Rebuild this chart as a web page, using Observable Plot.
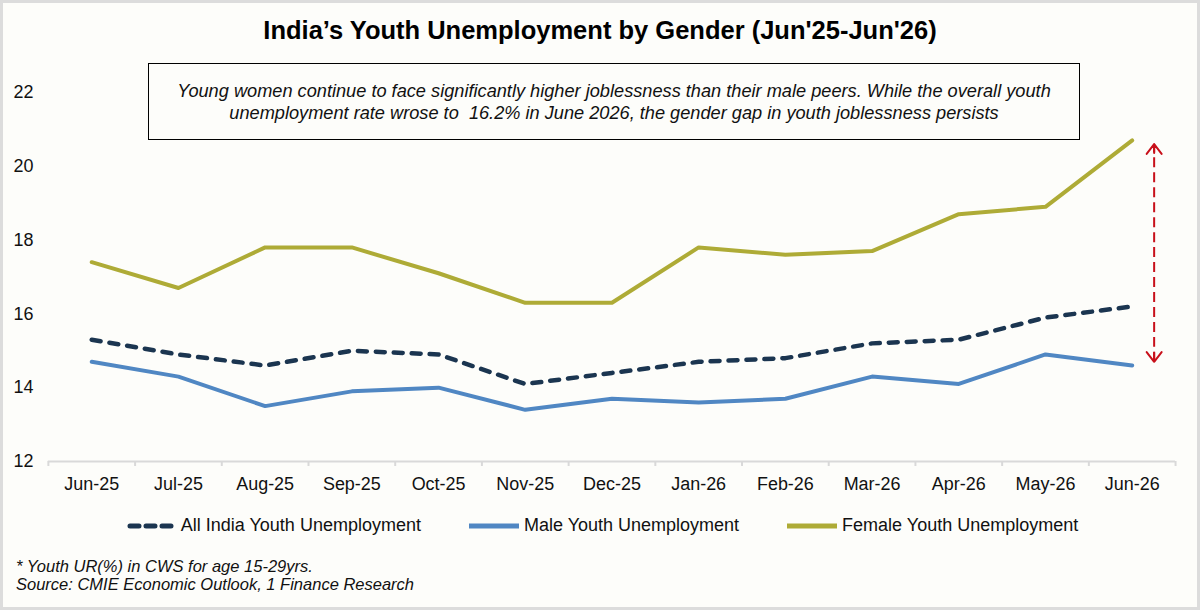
<!DOCTYPE html>
<html>
<head>
<meta charset="utf-8">
<script src="https://cdn.jsdelivr.net/npm/d3@7"></script>
<script src="https://cdn.jsdelivr.net/npm/@observablehq/plot@0.6"></script>
<style>
  html, body { margin: 0; padding: 0; background: #fdfdfa; }
  #wrap { position: relative; width: 1200px; height: 610px; box-sizing: border-box;
          border: 3px solid #dcdcdc; background: #fdfdfa; font-family: "Liberation Sans", Arial, sans-serif; overflow: hidden; }
  #title { position: absolute; left: 0; top: 13px; width: 1194px; text-align: center;
           font-size: 25.5px; font-weight: bold; color: #000; }
  #chart { position: absolute; left: -3px; top: 54px; }
  #note { position: absolute; left: 145px; top: 60px; width: 932px; height: 77px; box-sizing: border-box;
          border: 1.5px solid #000; background: #fdfdfa; display: flex; align-items: center; justify-content: center;
          text-align: center; font-style: italic; font-size: 18.2px; line-height: 22px; color: #111; }
  #legend { position: absolute; left: 0; top: 512px; width: 1194px; display: flex; justify-content: center;
            gap: 48px; font-size: 18px; color: #111; padding-left: 4px; box-sizing: border-box; }
  .item { display: flex; align-items: center; gap: 5px; }
  #foot { position: absolute; left: 13px; top: 554px; font-style: italic; font-size: 16.5px; line-height: 18px; color: #111; }
</style>
</head>
<body>
<div id="wrap">
  <div id="title">India’s Youth Unemployment by Gender (Jun'25-Jun'26)</div>
  <div id="chart"></div>
  <div id="note"><div>Young women continue to face significantly higher joblessness than their male peers. While the overall youth<br>unemployment rate wrose to &nbsp;16.2% in June 2026, the gender gap in youth joblessness persists</div></div>
  <div id="legend"></div>
  <div id="foot">* Youth UR(%) in CWS for age 15-29yrs.<br>Source: CMIE Economic Outlook, 1 Finance Research</div>
</div>
<script>
const months = ["Jun-25","Jul-25","Aug-25","Sep-25","Oct-25","Nov-25","Dec-25","Jan-26","Feb-26","Mar-26","Apr-26","May-26","Jun-26"];
const allIndia = [15.3, 14.9, 14.6, 15.0, 14.9, 14.1, 14.4, 14.7, 14.8, 15.2, 15.3, 15.9, 16.2];
const male     = [14.7, 14.3, 13.5, 13.9, 14.0, 13.4, 13.7, 13.6, 13.7, 14.3, 14.1, 14.9, 14.6];
const female   = [17.4, 16.7, 17.8, 17.8, 17.1, 16.3, 16.3, 17.8, 17.6, 17.7, 18.7, 18.9, 20.7];
const yTicks = [12, 14, 16, 18, 20, 22];

const seriesNames = ["All India Youth Unemployment", "Male Youth Unemployment", "Female Youth Unemployment"];
const seriesColors = ["#1b3550", "#5087c3", "#aeab36"];

const rows = (vals, s) => vals.map((v, i) => ({i, v, s}));
const last = months.length - 1;
const gap = [{i: last, lo: male[last] + 0.1, hi: female[last] - 0.1}];
const heads = [
  {i: last, from: gap[0].hi - 1, to: gap[0].hi},
  {i: last, from: gap[0].lo + 1, to: gap[0].lo}
];

const chart = Plot.plot({
  width: 1200,
  height: 450,
  marginLeft: 48,
  marginRight: 22,
  marginTop: 35,
  marginBottom: 45,
  style: {background: "transparent", fontFamily: "'Liberation Sans', Arial, sans-serif", color: "#111"},
  x: {type: "linear", domain: [-0.5, months.length - 0.5], label: null},
  y: {domain: [12, 22], label: null},
  marks: [
    Plot.ruleY([12], {stroke: "#d9d9d9", strokeWidth: 2}),
    Plot.axisX(d3.range(months.length + 1).map(i => i - 0.5), {tickFormat: () => "", tickSize: 5, stroke: "#d9d9d9", strokeWidth: 2, label: null}),
    Plot.axisX(d3.range(months.length), {tickFormat: i => months[i], tickSize: 0, tickPadding: 16, fontSize: 18, label: null}),
    Plot.axisY(yTicks, {tickSize: 0, tickPadding: 15, fontSize: 18, label: null}),
    Plot.line(rows(female, seriesNames[2]), {x: "i", y: "v", stroke: seriesColors[2], strokeWidth: 4}),
    Plot.line(rows(male, seriesNames[1]), {x: "i", y: "v", stroke: seriesColors[1], strokeWidth: 4}),
    Plot.line(rows(allIndia, seriesNames[0]), {x: "i", y: "v", stroke: seriesColors[0], strokeWidth: 4.5, strokeDasharray: "9,9", strokeLinecap: "round"}),
    Plot.link(gap, {x1: "i", x2: "i", y1: "lo", y2: "hi", dx: 22, stroke: "#c8101a", strokeWidth: 2, strokeDasharray: "10,5"}),
    Plot.arrow(heads, {x1: "i", x2: "i", y1: "from", y2: "to", dx: 22, insetStart: 28, stroke: "#c8101a", strokeWidth: 2, headLength: 10, headAngle: 75})
  ]
});
document.getElementById("chart").appendChild(chart);

const legend = document.getElementById("legend");
seriesNames.forEach((name, k) => {
  const item = document.createElement("div");
  item.className = "item";
  const dash = k === 0 ? 'stroke-dasharray="9,7" stroke-linecap="round"' : '';
  const x1 = k === 0 ? 4 : 0, x2 = k === 0 ? 46 : 50;
  item.innerHTML = `<svg width="50" height="10"><line x1="${x1}" x2="${x2}" y1="5" y2="5" stroke="${seriesColors[k]}" stroke-width="5" ${dash}/></svg><span>${name}</span>`;
  legend.appendChild(item);
});
</script>
</body>
</html>
